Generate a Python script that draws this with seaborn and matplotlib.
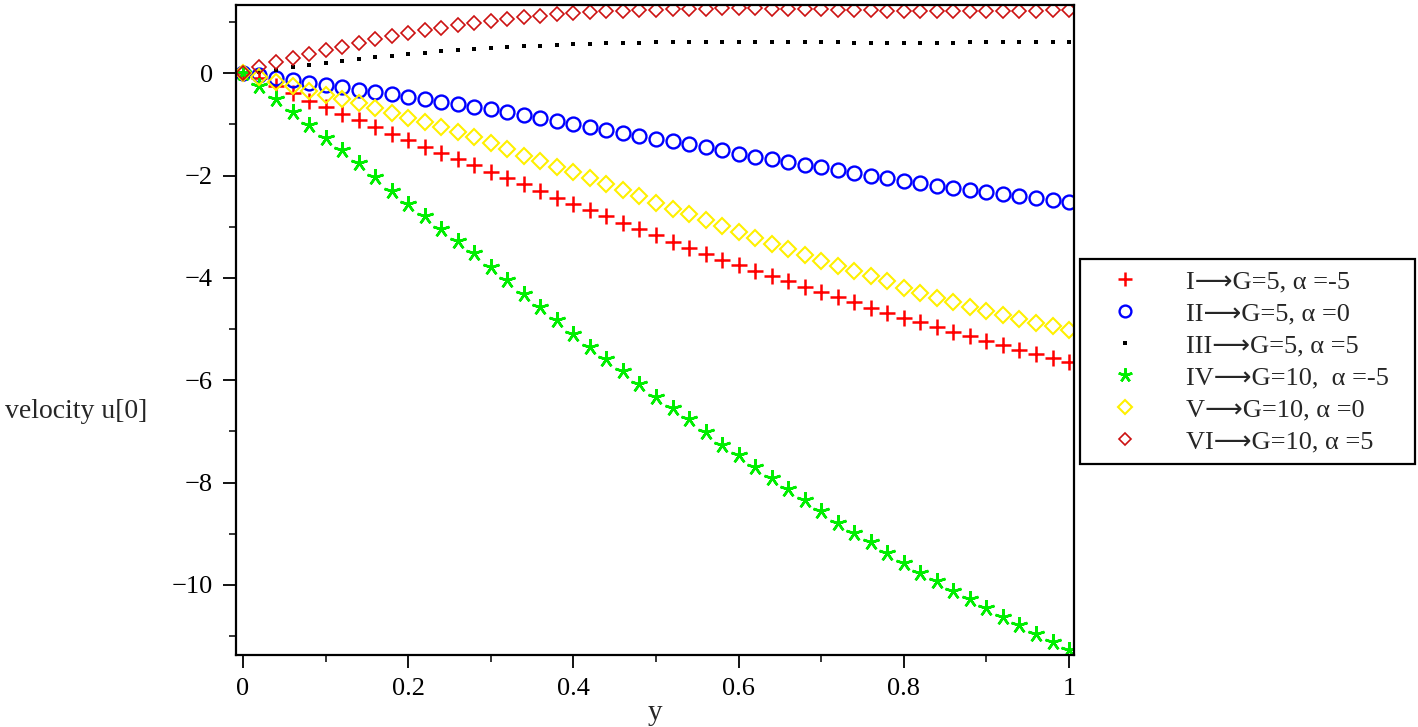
import numpy as np
import pandas as pd
import matplotlib
matplotlib.use("Agg")
import matplotlib.pyplot as plt
from matplotlib.ticker import MultipleLocator
import seaborn as sns

# y positions (0 .. 1 step 0.02)
y_vals = [round(0.02 * i, 2) for i in range(51)]

u_I = [0, -0.09, -0.25, -0.39, -0.54, -0.67, -0.80, -0.92, -1.05, -1.18,
       -1.31, -1.44, -1.56, -1.68, -1.80, -1.93, -2.05, -2.17, -2.30, -2.43,
       -2.55, -2.67, -2.80, -2.92, -3.04, -3.17, -3.30, -3.42, -3.54, -3.65,
       -3.75, -3.86, -3.97, -4.07, -4.18, -4.28, -4.38, -4.48, -4.58, -4.68,
       -4.78, -4.87, -4.96, -5.05, -5.14, -5.23, -5.32, -5.41, -5.49, -5.57,
       -5.65]
u_II = [0, -0.04, -0.09, -0.14, -0.19, -0.23, -0.27, -0.32, -0.37, -0.41,
        -0.46, -0.51, -0.56, -0.61, -0.66, -0.71, -0.76, -0.81, -0.87, -0.93,
        -0.99, -1.05, -1.11, -1.17, -1.22, -1.28, -1.33, -1.39, -1.45, -1.51,
        -1.57, -1.63, -1.68, -1.74, -1.79, -1.84, -1.90, -1.95, -2.00, -2.05,
        -2.10, -2.15, -2.20, -2.25, -2.29, -2.33, -2.37, -2.41, -2.44, -2.48,
        -2.52]
u_III = [0, 0.02, 0.07, 0.12, 0.16, 0.20, 0.24, 0.27, 0.31, 0.34,
         0.37, 0.40, 0.43, 0.45, 0.47, 0.49, 0.51, 0.53, 0.54, 0.55,
         0.56, 0.57, 0.58, 0.59, 0.59, 0.60, 0.60, 0.60, 0.61, 0.61,
         0.61, 0.61, 0.61, 0.60, 0.60, 0.60, 0.60, 0.59, 0.59, 0.59,
         0.59, 0.59, 0.59, 0.59, 0.60, 0.60, 0.60, 0.60, 0.61, 0.61,
         0.61]
u_IV = [0, -0.25, -0.51, -0.76, -1.02, -1.27, -1.51, -1.76, -2.02, -2.30,
        -2.55, -2.80, -3.05, -3.28, -3.52, -3.78, -4.05, -4.32, -4.57, -4.83,
        -5.09, -5.35, -5.58, -5.82, -6.07, -6.32, -6.54, -6.76, -7.02, -7.26,
        -7.47, -7.70, -7.92, -8.12, -8.35, -8.56, -8.79, -8.98, -9.17, -9.37,
        -9.57, -9.76, -9.92, -10.11, -10.27, -10.45, -10.63, -10.79, -10.95, -11.12,
        -11.27]
u_V = [0, -0.08, -0.17, -0.26, -0.34, -0.42, -0.50, -0.59, -0.68, -0.77,
       -0.87, -0.96, -1.06, -1.15, -1.25, -1.37, -1.49, -1.61, -1.72, -1.83,
       -1.94, -2.05, -2.16, -2.29, -2.41, -2.53, -2.65, -2.76, -2.87, -2.99,
       -3.11, -3.22, -3.34, -3.44, -3.55, -3.67, -3.77, -3.87, -3.97, -4.07,
       -4.19, -4.29, -4.39, -4.48, -4.57, -4.64, -4.72, -4.80, -4.88, -4.95,
       -5.02]
u_VI = [0, 0.12, 0.21, 0.29, 0.37, 0.45, 0.52, 0.59, 0.66, 0.72,
        0.78, 0.84, 0.89, 0.94, 0.98, 1.02, 1.06, 1.09, 1.12, 1.15,
        1.17, 1.19, 1.21, 1.22, 1.23, 1.24, 1.25, 1.26, 1.26, 1.27,
        1.27, 1.27, 1.26, 1.26, 1.25, 1.25, 1.24, 1.24, 1.23, 1.22,
        1.22, 1.21, 1.21, 1.21, 1.21, 1.21, 1.21, 1.22, 1.22, 1.23,
        1.24]

labels = ["I\u27f6G=5, \u03b1 =-5", "II\u27f6G=5, \u03b1 =0", "III\u27f6G=5, \u03b1 =5",
          "IV\u27f6G=10,  \u03b1 =-5", "V\u27f6G=10, \u03b1 =0", "VI\u27f6G=10, \u03b1 =5"]
series = [u_I, u_II, u_III, u_IV, u_V, u_VI]

df = pd.concat([pd.DataFrame({"y": y_vals, "u": s, "case": lab})
                for s, lab in zip(series, labels)], ignore_index=True)

# marker styles (Maple-like)
styles = {
    labels[0]: dict(marker="+", color="#FF0000", ms=12, mew=1.8),
    labels[1]: dict(marker="o", color="#0000FF", ms=10, mew=1.7, mfc="none"),
    labels[2]: dict(marker="s", color="black", ms=2.8, mew=0),
    labels[3]: dict(marker=(5, 2, 0), color="#00EE00", ms=12, mew=1.8),
    labels[4]: dict(marker="D", color="#FFF000", ms=8, mew=1.5, mfc="none"),
    labels[5]: dict(marker="D", color="#CC1111", ms=7.5, mew=1.2, mfc="none"),
}

sns.set_style("white")
plt.rcParams["font.family"] = ["Liberation Serif", "DejaVu Sans"]

fig = plt.figure(figsize=(14.18, 7.27), dpi=100)
ax = fig.add_axes([0.1664, 0.099, 0.591, 0.894])

for lab in labels:
    st = styles[lab]
    sns.lineplot(data=df[df["case"] == lab], x="y", y="u", ax=ax,
                 linestyle="", marker=st["marker"], color=st["color"],
                 markersize=st["ms"], markeredgewidth=st["mew"],
                 markeredgecolor=st["color"],
                 markerfacecolor=st.get("mfc", st["color"]),
                 errorbar=None, legend=False)

ax.set_xlim(-0.0085, 1.006)
ax.set_ylim(-11.37, 1.33)

xt = np.round(np.arange(0, 1.01, 0.2), 1)
ax.set_xticks(xt)
ax.set_xticklabels(["0" if v == 0 else ("1" if v == 1 else f"{v:g}") for v in xt])
ax.xaxis.set_minor_locator(MultipleLocator(0.1))
yt = np.arange(-10, 1, 2)
ax.set_yticks(yt)
ax.set_yticklabels([f"\u2212{abs(v)}" if v < 0 else f"{v}" for v in yt])
ax.yaxis.set_minor_locator(MultipleLocator(1))
ax.tick_params(which="major", direction="out", length=9.5, width=1.3, labelsize=19,
               colors="black", bottom=True, left=True, pad=7)
ax.tick_params(which="minor", direction="out", length=5, width=1.3,
               bottom=True, left=True)

for sp in ax.spines.values():
    sp.set_color("black")
    sp.set_linewidth(1.6)

ax.set_xlabel("")
ax.set_ylabel("")
fig.text(655 / 1418, 1 - 713 / 727, "y", ha="center", va="center", fontsize=21)
fig.text(5 / 1418, 1 - 411 / 727, "velocity u[0]", ha="left", va="center", fontsize=20)

handles = ax.get_lines()[:6]
leg = fig.legend(handles, labels, loc="upper left",
                 bbox_to_anchor=(1080 / 1418, 1 - 467 / 727, 335 / 1418, 208 / 727),
                 mode="expand", fancybox=False, framealpha=1, edgecolor="black",
                 fontsize=19, handlelength=2.6, handletextpad=1.0, borderpad=0.42,
                 labelspacing=0.32, borderaxespad=0, markerscale=0.85)
leg.get_frame().set_linewidth(1.6)

fig.savefig("out.png", dpi=100)
